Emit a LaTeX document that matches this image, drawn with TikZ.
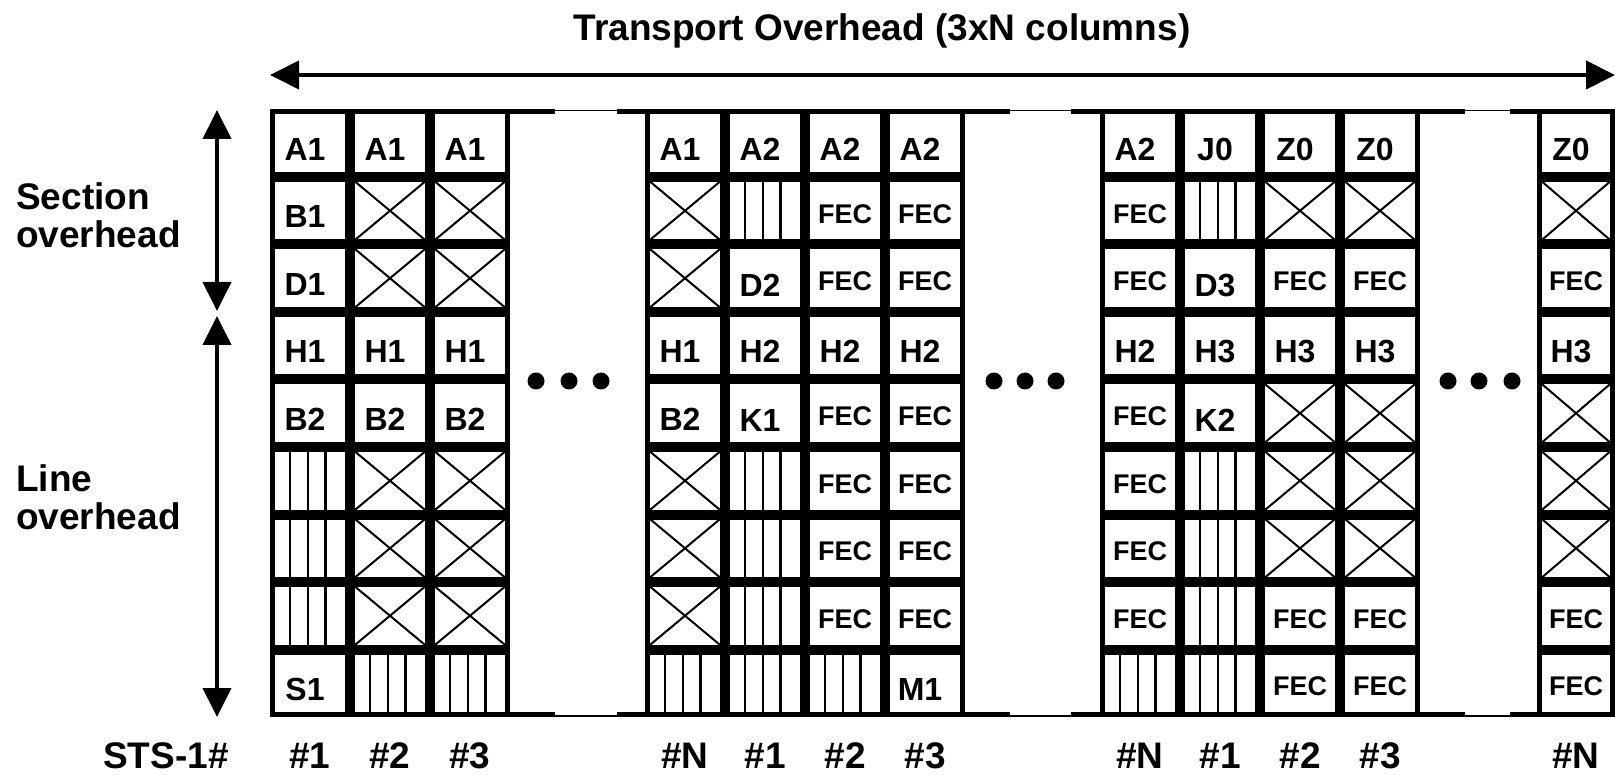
\documentclass[tikz,border=0pt]{standalone}
\usepackage{fontspec}
\setmainfont{Liberation Sans}
\usepackage{tikz}
\usetikzlibrary{arrows.meta}

\begin{document}
\begin{tikzpicture}[x=1pt,y=-1pt,
  cell/.style={draw,line width=5pt,fill=white,minimum width=75pt,minimum height=62.5pt,inner sep=0pt},
  lbl/.style={cell,font=\fontsize{32}{32}\selectfont\bfseries,text height=34pt,text depth=0pt,
              execute at end node={\hspace{10pt}}},
  lowlbl/.style={lbl,text height=37pt},
  fec/.style={cell,font=\fontsize{27}{27}\selectfont\bfseries,text height=25pt,text depth=0pt},
  xbox/.style={cell,path picture={\draw[line width=2pt]
      (path picture bounding box.north west) -- (path picture bounding box.south east)
      (path picture bounding box.south west) -- (path picture bounding box.north east);}},
  hbox/.style={cell,path picture={\draw[line width=2.2pt]
      ([xshift=17.6pt]path picture bounding box.south west) -- ++(0,-70)
      ([xshift=35.3pt]path picture bounding box.south west) -- ++(0,-70)
      ([xshift=52.9pt]path picture bounding box.south west) -- ++(0,-70);}},
  endcol/.style={minimum width=73pt},
  blob/.style={circle,fill=black,minimum size=17pt,inner sep=0pt},
  side/.style={font=\fontsize{37}{38}\selectfont\bfseries,align=left,inner sep=0pt,anchor=west},
  sts/.style={font=\fontsize{37}{37}\selectfont\bfseries,inner sep=0pt,anchor=base},
  widearrow/.style={line width=4pt,{Triangle[length=29pt,width=28pt]}-{Triangle[length=29pt,width=28pt]}},
  rim/.style={line width=5pt},
  gapline/.style={line width=1.2pt},
]
\path[fill=white] (0,0) rectangle (1615,775);
\useasboundingbox (0,0) rectangle (1615,775);

\node[font=\fontsize{37}{37}\selectfont\bfseries,inner sep=0pt,anchor=base] (title) at (882,41) {Transport Overhead (3xN columns)};
\coordinate (spanl) at (270,75);
\coordinate (spanr) at (1615,75);
\draw[widearrow] (spanl) -- (spanr);

\node[side] (secl) at (16,215) {Section\\overhead};
\node[side] (linel) at (16,497.5) {Line\\overhead};
\coordinate (sectop) at (217,110);
\coordinate (secbot) at (217,311);
\coordinate (linetop) at (217,316);
\coordinate (linebot) at (217,717);
\draw[widearrow] (sectop) -- (secbot);
\draw[widearrow] (linetop) -- (linebot);

\node[lbl] (a1) at (310,143.25) {A1};
\node[lbl] (a2) at (310,210.75) {B1};
\node[lbl] (a3) at (310,278.25) {D1};
\node[lbl] (a4) at (310,345.75) {H1};
\node[lbl] (a5) at (310,413.25) {B2};
\node[hbox] (a6) at (310,480.75) {};
\node[hbox] (a7) at (310,548.25) {};
\node[hbox] (a8) at (310,615.75) {};
\node[lbl] (a9) at (310,683.25) {S1};
\node[lbl] (b1) at (390,143.25) {A1};
\node[xbox] (b2) at (390,210.75) {};
\node[xbox] (b3) at (390,278.25) {};
\node[lbl] (b4) at (390,345.75) {H1};
\node[lbl] (b5) at (390,413.25) {B2};
\node[xbox] (b6) at (390,480.75) {};
\node[xbox] (b7) at (390,548.25) {};
\node[xbox] (b8) at (390,615.75) {};
\node[hbox] (b9) at (390,683.25) {};
\node[lbl] (c1) at (470,143.25) {A1};
\node[xbox] (c2) at (470,210.75) {};
\node[xbox] (c3) at (470,278.25) {};
\node[lbl] (c4) at (470,345.75) {H1};
\node[lbl] (c5) at (470,413.25) {B2};
\node[xbox] (c6) at (470,480.75) {};
\node[xbox] (c7) at (470,548.25) {};
\node[xbox] (c8) at (470,615.75) {};
\node[hbox] (c9) at (470,683.25) {};

\node[lbl] (d1) at (685,143.25) {A1};
\node[xbox] (d2) at (685,210.75) {};
\node[xbox] (d3) at (685,278.25) {};
\node[lbl] (d4) at (685,345.75) {H1};
\node[lbl] (d5) at (685,413.25) {B2};
\node[xbox] (d6) at (685,480.75) {};
\node[xbox] (d7) at (685,548.25) {};
\node[xbox] (d8) at (685,615.75) {};
\node[hbox] (d9) at (685,683.25) {};
\node[lbl] (e1) at (765,143.25) {A2};
\node[hbox] (e2) at (765,210.75) {};
\node[lowlbl] (e3) at (765,278.25) {D2};
\node[lbl] (e4) at (765,345.75) {H2};
\node[lowlbl] (e5) at (765,413.25) {K1};
\node[hbox] (e6) at (765,480.75) {};
\node[hbox] (e7) at (765,548.25) {};
\node[hbox] (e8) at (765,615.75) {};
\node[hbox] (e9) at (765,683.25) {};
\node[lbl] (f1) at (845,143.25) {A2};
\node[fec] (f2) at (845,210.75) {FEC};
\node[fec] (f3) at (845,278.25) {FEC};
\node[lbl] (f4) at (845,345.75) {H2};
\node[fec] (f5) at (845,413.25) {FEC};
\node[fec] (f6) at (845,480.75) {FEC};
\node[fec] (f7) at (845,548.25) {FEC};
\node[fec] (f8) at (845,615.75) {FEC};
\node[hbox] (f9) at (845,683.25) {};
\node[lbl] (g1) at (925,143.25) {A2};
\node[fec] (g2) at (925,210.75) {FEC};
\node[fec] (g3) at (925,278.25) {FEC};
\node[lbl] (g4) at (925,345.75) {H2};
\node[fec] (g5) at (925,413.25) {FEC};
\node[fec] (g6) at (925,480.75) {FEC};
\node[fec] (g7) at (925,548.25) {FEC};
\node[fec] (g8) at (925,615.75) {FEC};
\node[lbl] (g9) at (925,683.25) {M1};

\node[lbl] (h1) at (1140,143.25) {A2};
\node[fec] (h2) at (1140,210.75) {FEC};
\node[fec] (h3) at (1140,278.25) {FEC};
\node[lbl] (h4) at (1140,345.75) {H2};
\node[fec] (h5) at (1140,413.25) {FEC};
\node[fec] (h6) at (1140,480.75) {FEC};
\node[fec] (h7) at (1140,548.25) {FEC};
\node[fec] (h8) at (1140,615.75) {FEC};
\node[hbox] (h9) at (1140,683.25) {};
\node[lbl] (i1) at (1220,143.25) {J0};
\node[hbox] (i2) at (1220,210.75) {};
\node[lowlbl] (i3) at (1220,278.25) {D3};
\node[lbl] (i4) at (1220,345.75) {H3};
\node[lowlbl] (i5) at (1220,413.25) {K2};
\node[hbox] (i6) at (1220,480.75) {};
\node[hbox] (i7) at (1220,548.25) {};
\node[hbox] (i8) at (1220,615.75) {};
\node[hbox] (i9) at (1220,683.25) {};
\node[lbl] (j1) at (1300,143.25) {Z0};
\node[xbox] (j2) at (1300,210.75) {};
\node[fec] (j3) at (1300,278.25) {FEC};
\node[lbl] (j4) at (1300,345.75) {H3};
\node[xbox] (j5) at (1300,413.25) {};
\node[xbox] (j6) at (1300,480.75) {};
\node[xbox] (j7) at (1300,548.25) {};
\node[fec] (j8) at (1300,615.75) {FEC};
\node[fec] (j9) at (1300,683.25) {FEC};
\node[lbl] (k1) at (1380,143.25) {Z0};
\node[xbox] (k2) at (1380,210.75) {};
\node[fec] (k3) at (1380,278.25) {FEC};
\node[lbl] (k4) at (1380,345.75) {H3};
\node[xbox] (k5) at (1380,413.25) {};
\node[xbox] (k6) at (1380,480.75) {};
\node[xbox] (k7) at (1380,548.25) {};
\node[fec] (k8) at (1380,615.75) {FEC};
\node[fec] (k9) at (1380,683.25) {FEC};

\node[lbl,endcol] (l1) at (1576,143.25) {Z0};
\node[xbox,endcol] (l2) at (1576,210.75) {};
\node[fec,endcol] (l3) at (1576,278.25) {FEC};
\node[lbl,endcol] (l4) at (1576,345.75) {H3};
\node[xbox,endcol] (l5) at (1576,413.25) {};
\node[xbox,endcol] (l6) at (1576,480.75) {};
\node[xbox,endcol] (l7) at (1576,548.25) {};
\node[fec,endcol] (l8) at (1576,615.75) {FEC};
\node[fec,endcol] (l9) at (1576,683.25) {FEC};

\draw[rim] (510,112) -- (555,112) (617,112) -- (645,112) (510,714.5) -- (555,714.5) (617,714.5) -- (645,714.5);
\draw[gapline] (555,110.5) -- (617,110.5) (555,716) -- (617,716);
\draw[rim] (965,112) -- (1010,112) (1071,112) -- (1100,112) (965,714.5) -- (1010,714.5) (1071,714.5) -- (1100,714.5);
\draw[gapline] (1010,110.5) -- (1071,110.5) (1010,716) -- (1071,716);
\draw[rim] (1420,112) -- (1465,112) (1510,112) -- (1537,112) (1420,714.5) -- (1465,714.5) (1510,714.5) -- (1537,714.5);
\draw[gapline] (1465,110.5) -- (1510,110.5) (1465,716) -- (1510,716);

\node[blob] (dot1) at (536,381) {};
\node[blob] (dot2) at (569,381) {};
\node[blob] (dot3) at (601,381) {};
\node[blob] (dot4) at (994,381) {};
\node[blob] (dot5) at (1025,381) {};
\node[blob] (dot6) at (1056,381) {};
\node[blob] (dot7) at (1448,381) {};
\node[blob] (dot8) at (1479,381) {};
\node[blob] (dot9) at (1512,381) {};

\node[sts] (sts) at (166,768) {STS-1\#};
\node[sts] (s1) at (310,768) {\#1};
\node[sts] (s2) at (390,768) {\#2};
\node[sts] (s3) at (470,768) {\#3};
\node[sts] (s4) at (685,768) {\#N};
\node[sts] (s5) at (765,768) {\#1};
\node[sts] (s6) at (845,768) {\#2};
\node[sts] (s7) at (925,768) {\#3};
\node[sts] (s8) at (1140,768) {\#N};
\node[sts] (s9) at (1220,768) {\#1};
\node[sts] (s10) at (1300,768) {\#2};
\node[sts] (s11) at (1380,768) {\#3};
\node[sts] (s12) at (1576,768) {\#N};
\end{tikzpicture}
\end{document}
